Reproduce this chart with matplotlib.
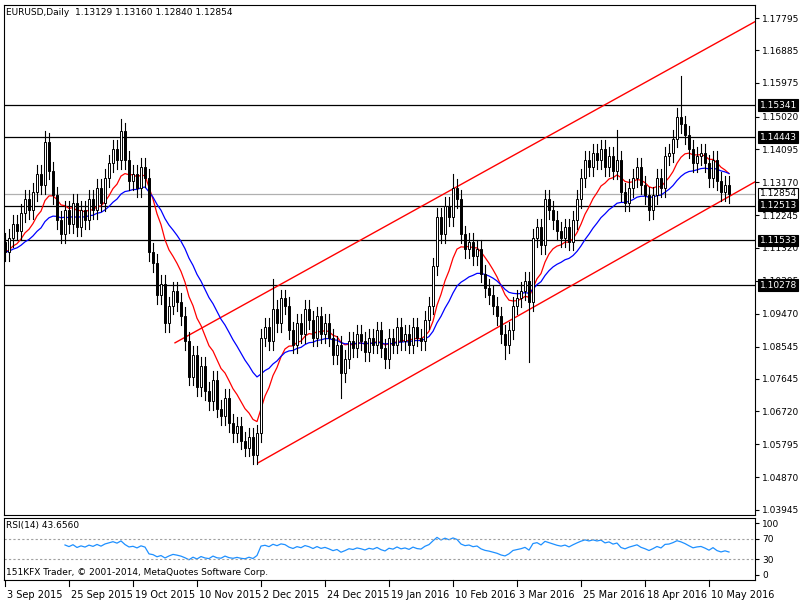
import numpy as np
import matplotlib.pyplot as plt
from matplotlib.patches import Rectangle

# daily closes, 3 Sep 2015 .. mid May 2016
closes = [
    1.112, 1.116, 1.120, 1.118, 1.123, 1.127, 1.124, 1.129, 1.134, 1.131,
    1.143, 1.135, 1.128, 1.121, 1.117, 1.124, 1.120, 1.126, 1.119, 1.124,
    1.121, 1.127, 1.124, 1.130, 1.126, 1.133, 1.137, 1.141, 1.138, 1.146,
    1.138, 1.132, 1.134, 1.130, 1.136, 1.133, 1.112, 1.109, 1.100, 1.103,
    1.092, 1.097, 1.101, 1.098, 1.094, 1.087, 1.077, 1.083, 1.074, 1.080,
    1.073, 1.070, 1.076, 1.068, 1.066, 1.071, 1.064, 1.061, 1.063, 1.059,
    1.057, 1.060, 1.055, 1.061, 1.088, 1.091, 1.087, 1.096, 1.092, 1.099,
    1.097, 1.090, 1.086, 1.092, 1.089, 1.096, 1.093, 1.088, 1.094, 1.089,
    1.092, 1.088, 1.083, 1.086, 1.078, 1.082, 1.087, 1.085, 1.089, 1.087,
    1.084, 1.088, 1.086, 1.090, 1.085, 1.082, 1.088, 1.086, 1.091, 1.087,
    1.089, 1.086, 1.091, 1.088, 1.087, 1.093, 1.097, 1.108, 1.122, 1.117,
    1.125, 1.122, 1.130, 1.127, 1.117, 1.113, 1.115, 1.111, 1.113, 1.106,
    1.102, 1.100, 1.097, 1.094, 1.089, 1.086, 1.090, 1.097, 1.099, 1.101,
    1.104, 1.098, 1.116, 1.119, 1.114, 1.127, 1.124, 1.121, 1.118, 1.116,
    1.119, 1.115, 1.121, 1.127, 1.133, 1.138, 1.136, 1.140, 1.138, 1.141,
    1.136, 1.139, 1.135, 1.138, 1.129, 1.126, 1.130, 1.133, 1.136, 1.131,
    1.128, 1.124, 1.128, 1.133, 1.130, 1.139, 1.140, 1.144, 1.150, 1.148,
    1.145, 1.141, 1.137, 1.139, 1.140, 1.137, 1.133, 1.138, 1.132, 1.129,
    1.131, 1.1285,
]
first_open = 1.1150
# notable wick extremes (bar index: price)
spike_highs = {10: 1.1460, 29: 1.1495, 67: 1.1045, 112: 1.1340, 153: 1.1465, 169: 1.1615}
spike_lows = {62: 1.0525, 84: 1.0710, 125: 1.0820, 131: 1.0810, 161: 1.1210}
wick = 0.0025

levels = [1.15341, 1.14443, 1.12513, 1.11533, 1.10278]
last_price = 1.12854
channel_upper = [(42.5, 1.0865), (195.0, 1.1816)]
channel_lower = [(63.25, 1.0527), (195.0, 1.1366)]
price_ticks = [1.17795, 1.16885, 1.15975, 1.15020, 1.14095, 1.13170, 1.12245, 1.11320,
               1.10395, 1.09470, 1.08545, 1.07645, 1.06720, 1.05795, 1.04870, 1.03945]
date_labels = ["3 Sep 2015", "25 Sep 2015", "19 Oct 2015", "10 Nov 2015", "2 Dec 2015",
               "24 Dec 2015", "19 Jan 2016", "10 Feb 2016", "3 Mar 2016", "25 Mar 2016",
               "18 Apr 2016", "10 May 2016"]

closes = np.array(closes)
n = len(closes)
opens = np.concatenate([[first_open], closes[:-1]])
highs = np.maximum(opens, closes) + wick
lows = np.minimum(opens, closes) - wick
for k, v in spike_highs.items():
    highs[k] = v
for k, v in spike_lows.items():
    lows[k] = v


def ema(x, p):
    out = np.empty_like(x)
    a = 2 / (p + 1)
    out[0] = x[0]
    for i in range(1, len(x)):
        out[i] = a * x[i] + (1 - a) * out[i - 1]
    return out


def rsi(x, p=14):
    d = np.diff(x)
    up = np.where(d > 0, d, 0.0)
    dn = np.where(d < 0, -d, 0.0)
    au, ad = up[:p].mean(), dn[:p].mean()
    out = [np.nan] * (p + 1)
    for i in range(p, len(d)):
        au = (au * (p - 1) + up[i]) / p
        ad = (ad * (p - 1) + dn[i]) / p
        out.append(100 - 100 / (1 + au / ad) if ad > 0 else 100)
    return np.array(out[:len(x)])


fs = 6.5
fig = plt.figure(figsize=(8, 6), dpi=100)
ax = fig.add_axes([4 / 800, 1 - 515 / 600, 751 / 800, 510 / 600])
rax = fig.add_axes([4 / 800, 1 - 580 / 600, 751 / 800, 62 / 600])
xl = (-0.25, 187.5)
ylo = 1.17795 - 497 / 3552
yhi = 1.17795 + 13 / 3552
ax.set_xlim(*xl)
ax.set_ylim(ylo, yhi)

for lv in levels:
    ax.axhline(lv, color="black", lw=0.9)
ax.axhline(last_price, color="#b0b0b0", lw=0.9)

for (x0, y0), (x1, y1) in [channel_upper, channel_lower]:
    ax.plot([x0, x1], [y0, y1], color="red", lw=1)

xs = np.arange(n)
ax.plot(xs, ema(closes, 12), color="red", lw=0.9)
ax.plot(xs, ema(closes, 26), color="blue", lw=0.9)

for i in range(n):
    o, c = opens[i], closes[i]
    ax.plot([i, i], [lows[i], highs[i]], color="black", lw=0.8, zorder=3)
    bull = c >= o
    ax.add_patch(Rectangle((i - 0.35, min(o, c)), 0.7, max(abs(c - o), 0.0002),
                           facecolor="white" if bull else "black",
                           edgecolor="black", lw=0.7, zorder=4))

ax.set_xticks([])
ax.yaxis.tick_right()
ax.set_yticks(price_ticks)
ax.set_yticklabels([f"{t:.5f}" for t in price_ticks], fontsize=fs)
ax.tick_params(axis="y", length=3, pad=2)
ax.text(0.003, 0.995, "EURUSD,Daily  1.13129 1.13160 1.12840 1.12854",
        transform=ax.transAxes, fontsize=fs, va="top")
for lv in levels + [last_price]:
    cur = lv == last_price
    ax.text(1.006, lv, f"{lv:.5f}", transform=ax.get_yaxis_transform(), fontsize=fs,
            va="center", ha="left", color="black" if cur else "white",
            bbox=dict(boxstyle="square,pad=0.15", fc="white" if cur else "black",
                      ec="black", lw=0.8), zorder=10)

r = rsi(closes)
rax.set_xlim(*xl)
rax.set_ylim(-10, 110)
rax.plot(xs, r, color="#1e90ff", lw=0.9)
for lv in (70, 30):
    rax.axhline(lv, color="#a0a0a0", lw=0.8, ls=(0, (2, 2)))
rax.set_xticks([])
rax.yaxis.tick_right()
rax.set_yticks([100, 70, 30, 0])
rax.tick_params(axis="y", labelsize=fs, length=3, pad=2)
rax.text(0.003, 0.95, "RSI(14) 43.6560", transform=rax.transAxes, fontsize=fs, va="top")
rax.text(0.003, 0.05, "151KFX Trader, \u00a9 2001-2014, MetaQuotes Software Corp.",
         transform=rax.transAxes, fontsize=fs, va="bottom")

for k, lab in enumerate(date_labels):
    xi = 16 * k
    rax.plot([xi, xi], [-10, -22], color="black", lw=0.8, clip_on=False)
    rax.text(xi + 0.5, -30, lab, fontsize=fs + 0.5, va="top", ha="left")

fig.savefig("out.png", dpi=100)
